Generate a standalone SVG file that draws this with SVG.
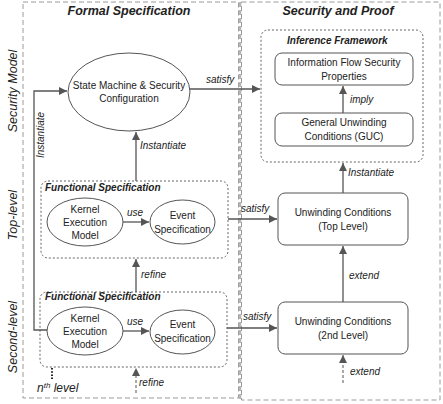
<svg xmlns="http://www.w3.org/2000/svg" width="443" height="404" viewBox="0 0 443 404">
<style>
text{font-family:"Liberation Sans",Arial,sans-serif;fill:#222;}
.t{font-size:10px;text-anchor:middle;}
.lab{font-size:10px;font-style:italic;}
.title{font-size:12.5px;font-weight:bold;font-style:italic;text-anchor:middle;}
.sub{font-size:10px;font-weight:bold;font-style:italic;}
.side{font-size:12.5px;font-style:italic;text-anchor:middle;}
.outer{fill:none;stroke:#9a9a9a;stroke-width:1;stroke-dasharray:5,3;}
.frame{fill:none;stroke:#555;stroke-width:0.9;stroke-dasharray:2,2;}
.node{fill:#fff;stroke:#555;stroke-width:1;}
.c{fill:none;stroke:#555;stroke-width:1.3;}
.d{fill:none;stroke:#555;stroke-width:1;stroke-dasharray:3,2;}
</style>
<defs>
<marker id="ah" viewBox="0 0 10 10" refX="10" refY="5" markerWidth="8" markerHeight="8" markerUnits="userSpaceOnUse" orient="auto">
<path d="M0,0 L10,5 L0,10 z" fill="#555"/>
</marker>
</defs>
<rect width="443" height="404" fill="#fff"/>
<g id="frames">
<rect class="outer" x="23" y="2" width="215.5" height="396"/>
<rect class="outer" x="241.5" y="2" width="198.5" height="398"/>
<line x1="240" y1="2" x2="240" y2="400" stroke="#b5b5b5" stroke-width="2.5" stroke-dasharray="5,3"/>
<text class="title" x="129" y="15">Formal Specification</text>
<text class="title" x="338" y="15">Security and Proof</text>
<text class="side" transform="translate(17,91) rotate(-90)">Security Model</text>
<text class="side" transform="translate(17,215) rotate(-90)">Top-level</text>
<text class="side" transform="translate(17,337) rotate(-90)">Second-level</text>
</g>
<g id="inference-framework">
<rect class="frame" x="261" y="30" width="162" height="132" rx="7"/>
<text class="sub" x="287" y="44">Inference Framework</text>
</g>
<g id="fs-top">
<rect class="frame" x="41" y="181" width="187" height="77" rx="7"/>
<text class="sub" x="45" y="191">Functional Specification</text>
</g>
<g id="fs-second">
<rect class="frame" x="40" y="292" width="187" height="75" rx="7"/>
<text class="sub" x="45" y="300">Functional Specification</text>
</g>
<g id="state-machine">
<ellipse class="node" cx="129" cy="92" rx="61" ry="39"/>
<text class="t" x="129" y="89">State Machine &amp; Security</text>
<text class="t" x="129" y="102">Configuration</text>
</g>
<g id="ifsp">
<rect class="node" x="275" y="53" width="138" height="32" rx="7"/>
<text class="t" x="344" y="66">Information Flow Security</text>
<text class="t" x="344" y="80">Properties</text>
</g>
<g id="guc">
<rect class="node" x="275" y="113" width="138" height="33" rx="7"/>
<text class="t" x="344" y="126">General Unwinding</text>
<text class="t" x="344" y="140">Conditions (GUC)</text>
</g>
<g id="uc-top">
<rect class="node" x="278" y="193" width="130" height="52" rx="7"/>
<text class="t" x="343" y="216">Unwinding Conditions</text>
<text class="t" x="343" y="230">(Top Level)</text>
</g>
<g id="uc-second">
<rect class="node" x="278" y="302" width="130" height="52" rx="7"/>
<text class="t" x="343" y="325">Unwinding Conditions</text>
<text class="t" x="343" y="339">(2nd Level)</text>
</g>
<g id="kernel-top">
<ellipse class="node" cx="85" cy="222" rx="38" ry="24"/>
<text class="t" x="85" y="213">Kernel</text>
<text class="t" x="85" y="226">Execution</text>
<text class="t" x="85" y="239">Model</text>
</g>
<g id="event-top">
<ellipse class="node" cx="182.5" cy="222" rx="32.5" ry="22"/>
<text class="t" x="182.5" y="219">Event</text>
<text class="t" x="182.5" y="233">Specification</text>
</g>
<g id="kernel-second">
<ellipse class="node" cx="85" cy="331" rx="38" ry="24"/>
<text class="t" x="85" y="322">Kernel</text>
<text class="t" x="85" y="335">Execution</text>
<text class="t" x="85" y="348">Model</text>
</g>
<g id="event-second">
<ellipse class="node" cx="182.5" cy="332" rx="32.5" ry="22"/>
<text class="t" x="182.5" y="328">Event</text>
<text class="t" x="182.5" y="342">Specification</text>
</g>
<g id="nth-level">
<line x1="52" y1="368" x2="52" y2="379" stroke="#222" stroke-width="2" stroke-dasharray="1.6,1.6"/>
<text x="37" y="392" style="font-size:12px;font-style:italic">n<tspan dy="-4.5" style="font-size:8px">th</tspan><tspan dy="4.5"> level</tspan></text>
</g>
<g id="connectors">
<path class="c" d="M190,89 L260,89" marker-end="url(#ah)"/>
<text class="lab" x="206" y="83">satisfy</text>
<path class="c" d="M343,113 L343,86" marker-end="url(#ah)"/>
<text class="lab" x="350" y="103">imply</text>
<path class="c" d="M343,193 L343,163" marker-end="url(#ah)"/>
<text class="lab" x="348" y="176">Instantiate</text>
<path class="c" d="M343,302 L343,246" marker-end="url(#ah)"/>
<text class="lab" x="349" y="279">extend</text>
<path class="d" d="M343,383 L343,355" marker-end="url(#ah)"/>
<text class="lab" x="350" y="375">extend</text>
<path class="c" d="M228,219 L277,219" marker-end="url(#ah)"/>
<text class="lab" x="241" y="212">satisfy</text>
<path class="c" d="M227,328 L277,328" marker-end="url(#ah)"/>
<text class="lab" x="243" y="320">satisfy</text>
<path class="c" d="M123,222 L149,222" marker-end="url(#ah)"/>
<text class="lab" x="127" y="216">use</text>
<path class="c" d="M123,331 L149,331" marker-end="url(#ah)"/>
<text class="lab" x="127" y="325">use</text>
<path class="c" d="M136,181 L136,132" marker-end="url(#ah)"/>
<text class="lab" x="140" y="149">Instantiate</text>
<path class="c" d="M136,292 L136,259" marker-end="url(#ah)"/>
<text class="lab" x="141" y="278">refine</text>
<path class="d" d="M136,393 L136,368" marker-end="url(#ah)"/>
<text class="lab" x="139" y="386">refine</text>
<path class="c" d="M47,330 L34,330 L34,91 L67,91" marker-end="url(#ah)"/>
<text class="lab" transform="translate(44,135) rotate(-90)" text-anchor="middle">Instantiate</text>
</g>
</svg>
